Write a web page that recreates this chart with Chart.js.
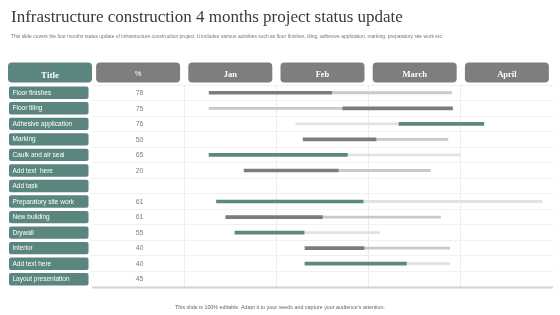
<!DOCTYPE html>
<html>
<head>
<meta charset="utf-8">
<script src="https://cdn.jsdelivr.net/npm/chart.js@4.4.0/dist/chart.umd.min.js"></script>
<style>
  html, body { margin: 0; padding: 0; background: #fff; }
  #wrap { position: relative; width: 560px; height: 315px; overflow: hidden; }
  #chart { position: absolute; left: 0; top: 0; }
  .title { position: absolute; left: 11px; top: 7px; font-family: "Liberation Serif", serif; font-size: 17px; color: #3a3a3a; white-space: nowrap; }
  .sub { position: absolute; left: 11px; top: 34px; font-family: "Liberation Sans", Arial, sans-serif; font-size: 4.95px; color: #777; white-space: nowrap; }
  .foot { position: absolute; left: 0; top: 304px; width: 560px; text-align: center; font-family: "Liberation Sans", Arial, sans-serif; font-size: 5.35px; color: #666; white-space: nowrap; }
</style>
</head>
<body>
<div id="wrap">
  <canvas id="chart" width="560" height="315"></canvas>
  <div class="title">Infrastructure construction 4 months project status update</div>
  <div class="sub">This slide covers the four months status update of infrastructure construction project. It includes various activities such as floor finishes, tiling, adhesive application, marking, preparatory site work etc.</div>
  <div class="foot">This slide is 100% editable. Adapt it to your needs and capture your audience’s attention.</div>
</div>
<script>
// Filas de la tabla
const tasks = ['Floor finishes', 'Floor tiling', 'Adhesive application', 'Marking', 'Caulk and air seal',
  'Add text  here', 'Add task', 'Preparatory site work', 'New building', 'Drywall', 'Interior',
  'Add text here', 'Layout presentation'];
const percents = ['78', '75', '76', '50', '65', '20', '', '61', '61', '55', '40', '40', '45'];
const months = ['Jan', 'Feb', 'March', 'April'];

// tipo de color de cada fila: 'gray' o 'teal'
const rowTone = ['gray', 'gray', 'teal', 'gray', 'teal', 'gray', null, 'teal', 'gray', 'teal', 'gray', 'teal', null];

// tramo oscuro (avance) y tramo claro (resto), en meses desde inicio de Jan
const doneSpan = [[0.27, 1.60], [1.72, 2.91], [2.33, 3.25], [1.29, 2.08], [0.27, 1.77], [0.65, 1.67], null,
  [0.35, 1.94], [0.45, 1.50], [0.55, 1.30], [1.31, 1.95], [1.31, 2.41], null];
const restSpan = [[1.60, 2.90], [0.27, 1.72], [1.21, 2.33], [2.08, 2.86], [1.77, 3.00], [1.67, 2.67], null,
  [1.94, 3.88], [1.50, 2.78], [1.30, 2.12], [1.95, 2.88], [2.41, 2.88], null];

const colors = {
  gray: { dark: '#7c7c7c', light: '#c9c9c9' },
  teal: { dark: '#5e8780', light: '#dde5e3' }
};
const headTeal = '#5b867f';
const headGray = '#7e7e7e';

const tablePlugin = {
  id: 'tabla',
  afterDraw(chart) {
    const ctx = chart.ctx;
    const x = chart.scales.x;
    const y = chart.scales.y;
    const area = chart.chartArea;
    ctx.save();

    // cabecera
    const hTop = 62.5, hH = 20;
    ctx.fillStyle = headTeal;
    ctx.beginPath();
    ctx.roundRect(8, hTop, 84, hH, 4);
    ctx.fill();
    ctx.font = 'bold 9px "Liberation Serif", serif';
    ctx.textAlign = 'center';
    ctx.textBaseline = 'middle';
    ctx.fillStyle = '#fff';
    ctx.fillText('Title', 50, hTop + 13.5);

    const heads = ['%'].concat(months);
    heads.forEach((h, i) => {
      const cx = x.getPixelForValue(i - 0.5);
      ctx.fillStyle = headGray;
      ctx.beginPath();
      ctx.roundRect(cx - 42, hTop, 84, hH, 4);
      ctx.fill();
      ctx.fillStyle = '#fff';
      ctx.font = (i === 0 ? '7.5px "Liberation Sans", sans-serif' : 'bold 8.5px "Liberation Serif", serif');
      ctx.fillText(h, cx, hTop + (i === 0 ? 11.5 : 12.5));
    });

    // etiquetas y porcentajes
    tasks.forEach((t, i) => {
      const cy = y.getPixelForValue(i);
      ctx.fillStyle = headTeal;
      ctx.beginPath();
      ctx.roundRect(9, cy - 6.2, 79.5, 12.4, 2);
      ctx.fill();
      ctx.fillStyle = '#fff';
      ctx.textAlign = 'left';
      ctx.font = '6.5px "Liberation Sans", sans-serif';
      ctx.fillText(t, 12.5, cy + 0.3);

      ctx.fillStyle = '#808080';
      ctx.textAlign = 'center';
      ctx.font = '7px "Liberation Sans", sans-serif';
      ctx.fillText(percents[i], x.getPixelForValue(-0.5) + 1.5, cy + 0.3);
    });

    // linea inferior
    ctx.fillStyle = '#d2d2d2';
    ctx.fillRect(area.left, area.bottom - 0.5, area.right - area.left, 2);
    ctx.restore();
  }
};

new Chart(document.getElementById('chart'), {
  type: 'bar',
  data: {
    labels: tasks,
    datasets: [{
      label: 'Done',
      data: doneSpan,
      backgroundColor: rowTone.map(t => t ? colors[t].dark : 'transparent'),
      barThickness: 3,
      grouped: false
    }, {
      label: 'Remaining',
      data: restSpan,
      backgroundColor: rowTone.map(t => t ? colors[t].light : 'transparent'),
      barThickness: 2.2,
      grouped: false
    }]
  },
  options: {
    indexAxis: 'y',
    responsive: false,
    animation: false,
    devicePixelRatio: 1,
    layout: { padding: { left: 92, right: 7, top: 85, bottom: 28 } },
    plugins: {
      legend: { display: false },
      tooltip: { enabled: false }
    },
    scales: {
      x: {
        min: -1,
        max: 4,
        ticks: { display: false, stepSize: 1 },
        border: { display: false },
        grid: {
          drawTicks: false,
          tickLength: 0,
          color: c => (c.tick && c.tick.value >= 0 && c.tick.value < 4) ? '#ededed' : 'transparent'
        }
      },
      y: {
        ticks: { display: false },
        border: { display: false },
        grid: { drawTicks: false, tickLength: 0, offset: true, color: '#f0f0f0' }
      }
    }
  },
  plugins: [tablePlugin]
});
</script>
</body>
</html>
